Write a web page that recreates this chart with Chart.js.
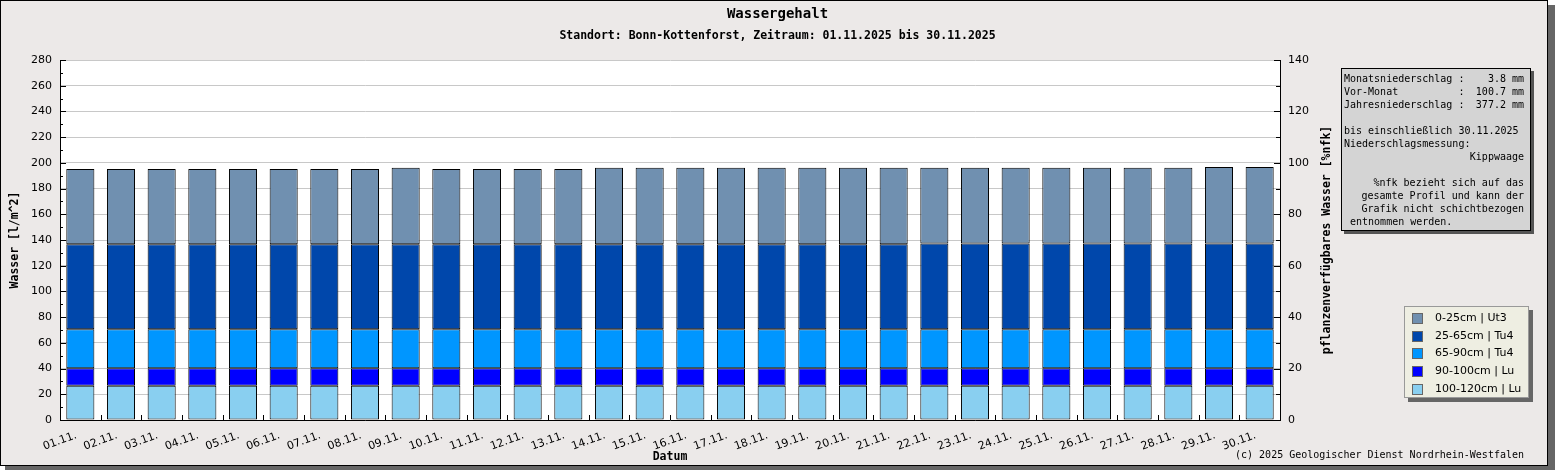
<!DOCTYPE html>
<html lang="de">
<head>
<meta charset="utf-8">
<title>Wassergehalt</title>
<script src="https://cdn.jsdelivr.net/npm/chart.js@4.4.1/dist/chart.umd.min.js"></script>
<style>
  html, body { margin: 0; padding: 0; background: #fff; }
</style>
</head>
<body>
<canvas id="wasser" width="1555" height="470"></canvas>
<script>
// Tage im November 2025
const tage = ['01.11.', '02.11.', '03.11.', '04.11.', '05.11.', '06.11.', '07.11.', '08.11.', '09.11.', '10.11.',
  '11.11.', '12.11.', '13.11.', '14.11.', '15.11.', '16.11.', '17.11.', '18.11.', '19.11.', '20.11.',
  '21.11.', '22.11.', '23.11.', '24.11.', '25.11.', '26.11.', '27.11.', '28.11.', '29.11.', '30.11.'];

// Wasser je Schicht in l/m^2 (von unten nach oben gestapelt)
const schicht100_120 = [26.7, 26.7, 26.7, 26.7, 26.7, 26.7, 26.7, 26.7, 26.7, 26.7,
  26.7, 26.7, 26.7, 26.7, 26.7, 26.7, 26.7, 26.7, 26.7, 26.7,
  26.7, 26.7, 26.7, 26.7, 26.7, 26.7, 26.7, 26.7, 26.7, 26.7];
const schicht90_100 = [13.5, 13.5, 13.5, 13.5, 13.5, 13.5, 13.5, 13.5, 13.5, 13.5,
  13.5, 13.5, 13.5, 13.5, 13.5, 13.5, 13.5, 13.5, 13.5, 13.5,
  13.5, 13.5, 13.5, 13.5, 13.5, 13.5, 13.5, 13.5, 13.5, 13.5];
const schicht65_90 = [30.3, 30.3, 30.3, 30.3, 30.3, 30.3, 30.3, 30.3, 30.3, 30.3,
  30.3, 30.3, 30.3, 30.3, 30.3, 30.3, 30.3, 30.3, 30.3, 30.3,
  30.3, 30.3, 30.3, 30.3, 30.3, 30.3, 30.3, 30.3, 30.3, 30.3];
const schicht25_65 = [66.1, 66.1, 66.1, 66.1, 66.1, 66.1, 66.1, 66.1, 66.1, 66.1,
  66.1, 66.1, 66.1, 66.1, 66.1, 66.1, 66.1, 66.1, 66.1, 66.1,
  66.1, 66.7, 66.7, 66.7, 66.7, 66.7, 66.7, 66.7, 66.7, 66.7];
const schicht0_25 = [58.7, 58.7, 58.7, 58.7, 58.7, 58.7, 58.7, 58.7, 59.5, 58.7,
  58.7, 58.7, 58.7, 59.5, 59.5, 59.5, 59.5, 59.5, 59.5, 59.5,
  59.5, 58.9, 58.9, 58.9, 58.9, 58.9, 58.9, 58.9, 59.6, 59.6];

const schichtNamen = ['100-120cm | Lu', '90-100cm | Lu', '65-90cm | Tu4', '25-65cm | Tu4', '0-25cm | Ut3'];
const schichtFarben = ['#89cff0', '#0000ff', '#0096ff', '#0047ab', '#7090b0'];

const yTicksLinks = [0, 20, 40, 60, 80, 100, 120, 140, 160, 180, 200, 220, 240, 260, 280];
const yTicksRechts = [0, 20, 40, 60, 80, 100, 120, 140];

// Texte im grauen Kasten
const infoZeilen = [
  ['Monatsniederschlag :', '3.8 mm'],
  ['Vor-Monat          :', '100.7 mm'],
  ['Jahresniederschlag :', '377.2 mm'],
  ['', ''],
  ['bis einschließlich 30.11.2025', ''],
  ['Niederschlagsmessung:', ''],
  ['', 'Kippwaage'],
  ['', ''],
  ['', '%nfk bezieht sich auf das'],
  ['', 'gesamte Profil und kann der'],
  ['', 'Grafik nicht schichtbezogen'],
  [' entnommen werden.', '']
];

const MONO = '"DejaVu Sans Mono", "Liberation Mono", monospace';
const SANS = '"DejaVu Sans", sans-serif';

const schichten = [schicht100_120, schicht90_100, schicht65_90, schicht25_65, schicht0_25];

const rahmen = {
  id: 'rahmen',
  beforeDraw(chart) {
    const c = chart.ctx;
    const a = chart.chartArea;
    c.save();
    c.fillStyle = '#fff';
    c.fillRect(0, 0, chart.width, chart.height);
    c.fillStyle = '#666';
    c.fillRect(5, 5, chart.width - 5, chart.height - 5);
    c.fillStyle = '#ece9e8';
    c.fillRect(0, 0, 1548, 465);
    c.strokeStyle = '#000';
    c.lineWidth = 1;
    c.strokeRect(0.5, 0.5, 1547, 465);
    c.fillStyle = '#fff';
    c.fillRect(a.left, a.top, a.right - a.left, a.bottom - a.top);
    c.restore();
  },
  afterDraw(chart) {
    const c = chart.ctx;
    const a = chart.chartArea;
    const yL = chart.scales.y, yR = chart.scales.y2, x = chart.scales.x;
    c.save();

    // Teilstriche nach innen
    c.strokeStyle = '#000';
    c.lineWidth = 1;
    c.beginPath();
    for (let v = 0; v <= 280; v += 10) {
      const py = Math.round(yL.getPixelForValue(v)) + 0.5;
      c.moveTo(a.left, py);
      c.lineTo(a.left + (v % 20 === 0 ? 6 : 3), py);
    }
    for (let v = 0; v <= 140; v += 10) {
      const py = Math.round(yR.getPixelForValue(v)) + 0.5;
      c.moveTo(a.right, py);
      c.lineTo(a.right - (v % 20 === 0 ? 6 : 4), py);
    }
    for (let i = 1; i < tage.length; i++) {
      const px = Math.round((x.getPixelForValue(i - 1) + x.getPixelForValue(i)) / 2) + 0.5;
      c.moveTo(px, a.bottom);
      c.lineTo(px, a.bottom - 5);
    }
    c.stroke();

    // rechte Achsenbeschriftung
    c.fillStyle = '#000';
    c.font = 'bold 11.5px ' + MONO;
    c.textAlign = 'center';
    c.textBaseline = 'middle';
    c.translate(1327, (a.top + a.bottom) / 2);
    c.rotate(-Math.PI / 2);
    c.fillText('pflanzenverfügbares Wasser [%nfk]', 0, 0);
    c.setTransform(chart.currentDevicePixelRatio, 0, 0, chart.currentDevicePixelRatio, 0, 0);

    // Infokasten
    c.fillStyle = '#555';
    c.fillRect(1344, 71, 190, 163);
    c.fillStyle = '#d4d4d4';
    c.fillRect(1341, 68, 190, 163);
    c.strokeStyle = '#000';
    c.strokeRect(1341.5, 68.5, 189, 162);
    c.fillStyle = '#000';
    c.font = '10px ' + MONO;
    infoZeilen.forEach((z, i) => {
      const py = 79.5 + i * 13;
      c.textAlign = 'left';
      if (z[0]) c.fillText(z[0], 1344, py);
      c.textAlign = 'right';
      if (z[1]) c.fillText(z[1], 1524, py);
    });

    // Legende
    c.fillStyle = '#666';
    c.fillRect(1408, 310, 125, 92);
    c.fillStyle = '#eeeee2';
    c.fillRect(1404, 306, 125, 92);
    c.strokeStyle = '#999';
    c.strokeRect(1404.5, 306.5, 124, 91);
    c.font = '11px ' + SANS;
    c.textAlign = 'left';
    const ds = chart.data.datasets.slice().reverse();
    ds.forEach((d, i) => {
      const py = 318 + i * 17.7;
      c.fillStyle = d.backgroundColor;
      c.fillRect(1412, Math.round(py - 5), 11, 11);
      c.strokeStyle = '#666';
      c.strokeRect(1412.5, Math.round(py - 5) + 0.5, 10, 10);
      c.fillStyle = '#000';
      c.fillText(d.label, 1435, py);
    });

    // Copyright
    c.font = '10px ' + MONO;
    c.textAlign = 'right';
    c.fillText('(c) 2025 Geologischer Dienst Nordrhein-Westfalen', 1524, 455);
    c.restore();
  }
};

new Chart(document.getElementById('wasser'), {
  type: 'bar',
  data: {
    labels: tage,
    datasets: schichten.map((werte, i) => ({
      label: schichtNamen[i],
      data: werte,
      backgroundColor: schichtFarben[i],
      borderColor: '#000',
      borderWidth: 1,
      borderSkipped: false,
      barPercentage: 0.69,
      categoryPercentage: 1.0,
      yAxisID: 'y'
    }))
  },
  options: {
    responsive: false,
    animation: false,
    plugins: {
      legend: { display: false },
      tooltip: { enabled: false },
      title: {
        display: true,
        text: 'Wassergehalt',
        color: '#000',
        font: { family: MONO, size: 14, weight: 'bold' },
        padding: { top: 6, bottom: 2 }
      },
      subtitle: {
        display: true,
        text: 'Standort: Bonn-Kottenforst, Zeitraum: 01.11.2025 bis 30.11.2025',
        color: '#000',
        font: { family: MONO, size: 11.5, weight: 'bold' },
        padding: { top: 4, bottom: 17.4 }
      }
    },
    scales: {
      x: {
        stacked: true,
        grid: { display: false, drawTicks: false },
        border: { color: '#000', width: 1 },
        ticks: {
          color: '#000',
          font: { family: SANS, size: 11 },
          autoSkip: false,
          minRotation: 20,
          maxRotation: 20,
          padding: 9,
          labelOffset: -4
        },
        title: {
          display: true,
          text: 'Datum',
          color: '#000',
          font: { family: MONO, size: 11.5, weight: 'bold' },
          padding: { top: 0, bottom: 6 }
        },
        afterFit(s) { s.height = 50; }
      },
      y: {
        stacked: true,
        position: 'left',
        min: 0,
        max: 280,
        afterBuildTicks(s) { s.ticks = yTicksLinks.map(v => ({ value: v })); },
        grid: { color: '#c8c8c8', drawTicks: false },
        border: { color: '#000', width: 1 },
        ticks: { color: '#000', font: { family: SANS, size: 11 }, padding: 8 },
        title: {
          display: true,
          text: 'Wasser [l/m^2]',
          color: '#000',
          font: { family: MONO, size: 11.5, weight: 'bold' },
          padding: { top: 8, bottom: 0 }
        },
        afterFit(s) { s.width = 60; }
      },
      y2: {
        type: 'linear',
        position: 'right',
        min: 0,
        max: 140,
        afterBuildTicks(s) { s.ticks = yTicksRechts.map(v => ({ value: v })); },
        grid: { display: false, drawTicks: false },
        border: { color: '#000', width: 1 },
        ticks: { color: '#000', font: { family: SANS, size: 11 }, padding: 8 },
        afterFit(s) { s.width = 275; }
      }
    }
  },
  plugins: [rahmen]
});
</script>
</body>
</html>
